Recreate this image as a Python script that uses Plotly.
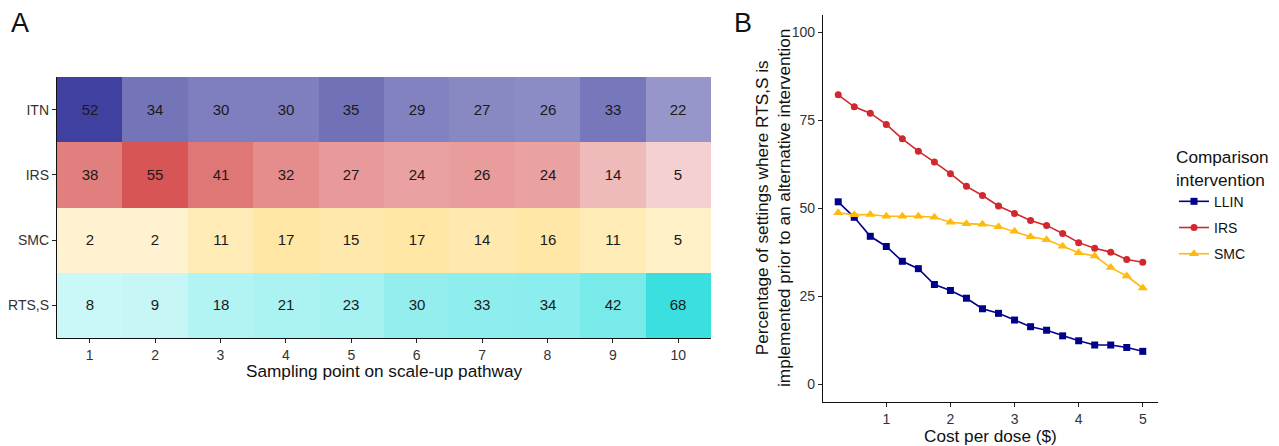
import plotly.graph_objects as go

# ---------------- Data ----------------
sampling_points = [1, 2, 3, 4, 5, 6, 7, 8, 9, 10]
interventions = ["ITN", "IRS", "SMC", "RTS,S"]
itn_vals = [52, 34, 30, 30, 35, 29, 27, 26, 33, 22]
irs_vals = [38, 55, 41, 32, 27, 24, 26, 24, 14, 5]
smc_vals = [2, 2, 11, 17, 15, 17, 14, 16, 11, 5]
rtss_vals = [8, 9, 18, 21, 23, 30, 33, 34, 42, 68]

cost_per_dose = [0.25, 0.5, 0.75, 1.0, 1.25, 1.5, 1.75, 2.0, 2.25, 2.5,
                 2.75, 3.0, 3.25, 3.5, 3.75, 4.0, 4.25, 4.5, 4.75, 5.0]
llin_pct = [51.9, 47.5, 42.1, 39.2, 35.0, 32.9, 28.4, 26.7, 24.5, 21.5,
            20.2, 18.3, 16.4, 15.4, 13.8, 12.4, 11.2, 11.2, 10.5, 9.4]
irs_pct = [82.3, 78.9, 77.1, 73.9, 69.8, 66.3, 63.2, 59.9, 56.3, 53.7,
           50.7, 48.6, 46.6, 45.2, 42.9, 40.3, 38.7, 37.6, 35.5, 34.7]
smc_pct = [48.8, 48.2, 48.3, 47.8, 47.8, 47.8, 47.5, 46.1, 45.7, 45.5,
           44.8, 43.5, 42.0, 41.1, 39.3, 37.4, 36.5, 33.2, 30.8, 27.4]

# ---------------- Styling ----------------
W, H = 1279, 446
OFF = 8  # page body margin offset
FONT = "Liberation Sans, Arial, sans-serif"
base_cols = {"ITN": (18, 18, 137), "IRS": (208, 53, 53), "SMC": (255, 190, 20), "RTS,S": (58, 224, 224)}
line_cols = {"LLIN": "#00008B", "IRS": "#D0282E", "SMC": "#FFB90F"}
ALPHA_MIN = 0.2
ZMIN, ZMAX = 2, 68


def blend(rgb, a):
    return "rgb(%d,%d,%d)" % tuple(round(a * c + (1 - a) * 255) for c in rgb)


def px_x(p):
    return (p - OFF) / W


def px_y(p):
    return 1 - (p - OFF) / H


fig = go.Figure()

rows = {"ITN": itn_vals, "IRS": irs_vals, "SMC": smc_vals, "RTS,S": rtss_vals}
row_index = [3, 2, 1, 0]  # numeric row positions (ITN at top)
for k, name in enumerate(interventions):
    rgb = base_cols[name]
    z = [[None] * len(sampling_points) for _ in interventions]
    z[row_index[k]] = list(rows[name])
    fig.add_trace(go.Heatmap(
        x=sampling_points, y=[0, 1, 2, 3], z=z,
        zmin=ZMIN, zmax=ZMAX,
        colorscale=[[0, blend(rgb, ALPHA_MIN)], [1, blend(rgb, 1.0)]],
        showscale=False, texttemplate="%{z}",
        textfont=dict(family=FONT, size=15, color="#1a1a1a"),
        hoverinfo="skip", xaxis="x", yaxis="y", showlegend=False,
    ))

series = [("LLIN", llin_pct, "square", 7), ("IRS", irs_pct, "circle", 7), ("SMC", smc_pct, "triangle-up", 9)]
for name, vals, sym, sz in series:
    fig.add_trace(go.Scatter(
        x=cost_per_dose, y=vals, mode="lines+markers", name=name, legendgroup=name,
        line=dict(color=line_cols[name], width=1.6),
        marker=dict(symbol=sym, size=sz, color=line_cols[name]),
        xaxis="x2", yaxis="y2",
    ))

axis_common = dict(showgrid=False, zeroline=False, ticks="outside", ticklen=4, automargin=False,
                   tickcolor="#222", showline=True, linecolor="#111", linewidth=1.3,
                   tickfont=dict(family=FONT, size=14, color="#333"))

title_font = dict(family=FONT, size=17.2, color="#111")

fig.update_layout(
    width=W, height=H, margin=dict(l=0, r=0, t=0, b=0, autoexpand=False),
    paper_bgcolor="white", plot_bgcolor="white",
    font=dict(family=FONT, color="#111"),
    xaxis=dict(domain=[px_x(57), px_x(711)], range=[0.5, 10.5], tickvals=sampling_points,
               anchor="y", **axis_common),
    yaxis=dict(domain=[px_y(338), px_y(77)], range=[-0.5, 3.5],
               tickvals=[3, 2, 1, 0], ticktext=interventions, anchor="x",
               **axis_common),
    xaxis2=dict(domain=[px_x(823), px_x(1158)], range=[0.0125, 5.2375], tickvals=[1, 2, 3, 4, 5],
                anchor="y2", **axis_common),
    yaxis2=dict(domain=[px_y(402), px_y(15)], range=[-5, 105], tickvals=[0, 25, 50, 75, 100],
                anchor="x2", **axis_common),
    legend=dict(x=px_x(1174), y=px_y(141), xanchor="left", yanchor="top",
                title=dict(text="Comparison<br>intervention", font=dict(family=FONT, size=17.2, color="#111")),
                font=dict(family=FONT, size=14, color="#111"), tracegroupgap=5,
                bgcolor="rgba(0,0,0,0)"),
    annotations=[
        dict(text="A", x=px_x(9), y=px_y(6), xref="paper", yref="paper", xanchor="left", yanchor="top",
             showarrow=False, font=dict(family=FONT, size=27, color="#111")),
        dict(text="B", x=px_x(732), y=px_y(6), xref="paper", yref="paper", xanchor="left", yanchor="top",
             showarrow=False, font=dict(family=FONT, size=27, color="#111")),
        dict(text="Sampling point on scale-up pathway", x=px_x(384), y=px_y(371), xref="paper", yref="paper",
             xanchor="center", yanchor="middle", showarrow=False, font=title_font),
        dict(text="Cost per dose ($)", x=px_x(990), y=px_y(436), xref="paper", yref="paper",
             xanchor="center", yanchor="middle", showarrow=False, font=title_font),
        dict(text="Percentage of settings where RTS,S is<br>implemented prior to an alternative intervention",
             x=px_x(773), y=px_y(208), xref="paper", yref="paper", textangle=-90,
             xanchor="center", yanchor="middle", showarrow=False, font=title_font),
    ],
)

fig.write_html("out.html")
